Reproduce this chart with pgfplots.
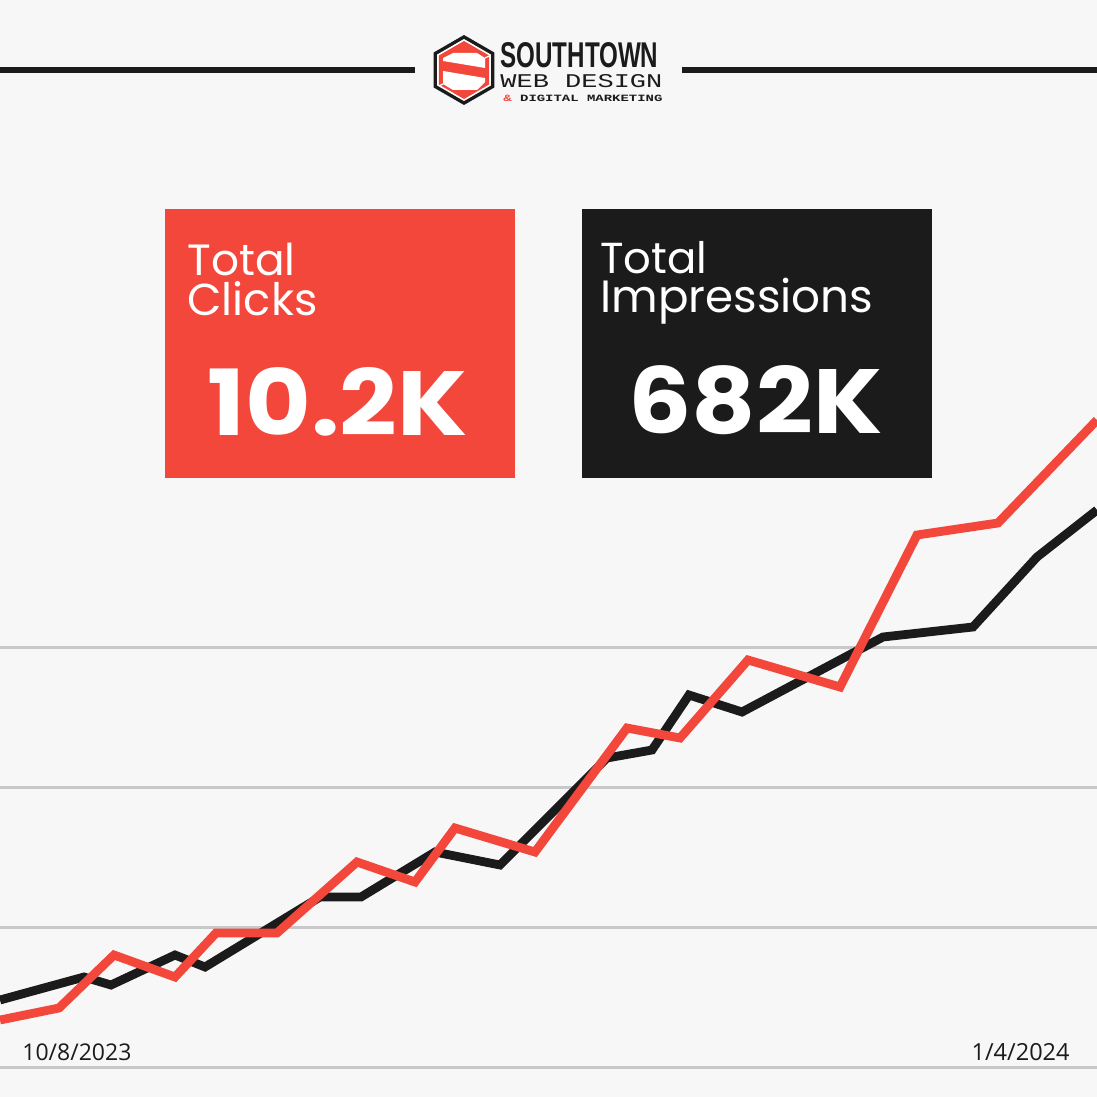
\documentclass[border=0pt]{standalone}
\usepackage{pgfplots}
\pgfplotsset{compat=1.18}
\usepackage{fontspec}
\setmainfont{Poppins}
\newfontfamily\logosans{Liberation Sans}
\newfontfamily\logomono{Liberation Mono}
\newfontfamily\datefont{Open Sans}
\definecolor{bgc}{HTML}{F7F7F7}
\definecolor{sred}{HTML}{F2473A}
\definecolor{sblack}{HTML}{1B1B1B}
\definecolor{gridc}{HTML}{C8C8C8}

\begin{document}
\begin{tikzpicture}
\begin{axis}[
    width=548.5pt, height=548.5pt, scale only axis,
    xmin=0, xmax=1097, ymin=0, ymax=1097, y dir=reverse,
    axis line style={draw=none},
    tick style={draw=none},
    xtick=\empty,
    ytick={647,787,927,1067}, yticklabels={},
    ymajorgrids=true,
    grid style={gridc, line width=1.5pt},
    axis background/.style={fill=bgc},
    clip mode=individual,
]

% impressions
\addplot[sblack, line width=4.4pt, line join=miter] coordinates {
    (0,1000)(84,977)(111,985)(175,955)(205,967)(320,897)(361,897)
    (435,852)(500,865)(607,758)(652,750)(689,695)(742,712)(883,637)
    (973,627)(1037,557)(1097,510)
};

% clicks
\addplot[sred, line width=4.4pt, line join=miter] coordinates {
    (0,1020)(59,1008)(114,955)(175,977)(216,933)(277,933)(357,862)
    (415,882)(455,828)(535,852)(627,728)(680,738)(748,660)(840,687)
    (917,535)(998,523)(1097,420)
};

% header rules
\draw[sblack, line width=3pt] (0,70) -- (415,70);
\draw[sblack, line width=3pt] (682,70) -- (1097,70);

% logo
\fill[sblack] (464,35) -- (494.3,52.5) -- (494.3,87.5) -- (464,105) -- (433.7,87.5) -- (433.7,52.5) -- cycle;
\fill[white] (464,39) -- (490.8,54.5) -- (490.8,85.5) -- (464,101) -- (437.2,85.5) -- (437.2,54.5) -- cycle;
\fill[sred] (464,41) -- (489.1,55.5) -- (489.1,84.5) -- (464,99) -- (438.9,84.5) -- (438.9,55.5) -- cycle;
\fill[white] (443,61) -- (443,58) -- (453,53) -- (477,53) -- (485,58) -- (485,68) -- cycle;
\fill[white] (443,71) -- (485,78) -- (485,82) -- (477,90) -- (453,90) -- (443,84) -- cycle;
\draw[white, line width=0.6pt] (485,58) -- (489.1,56);
\draw[white, line width=0.6pt] (443,84) -- (438.9,86);
\node[anchor=base west, inner sep=0, sblack] at (500,68)
    {\resizebox{79pt}{12.5pt}{\logosans\bfseries SOUTHTOWN}};
\node[anchor=base west, inner sep=0, sblack] at (500,87)
    {\smash{\resizebox{81pt}{6.5pt}{\logomono WEB DESIGN}}};
\node[anchor=base west, inner sep=0, sblack] at (503,102)
    {\smash{\resizebox{79.5pt}{3.2pt}{\logomono\bfseries\textcolor{sred}{\&} DIGITAL MARKETING}}};

% stat boxes
\fill[sred] (165,209) rectangle (515,478);
\fill[sblack] (582,209) rectangle (932,478);

\node[anchor=base west, inner sep=0, white] at (187,275) {\smash{\resizebox{54pt}{!}{Total}}};
\node[anchor=base west, inner sep=0, white] at (187,315) {\smash{\resizebox{65pt}{!}{Clicks}}};
\node[anchor=base west, inner sep=0, white] at (207,435) {\resizebox{130pt}{34pt}{\bfseries 10.2K}};

\node[anchor=base west, inner sep=0, white] at (600,273) {\smash{\resizebox{53.5pt}{!}{Total}}};
\node[anchor=base west, inner sep=0, white] at (600,312) {\smash{\resizebox{136.5pt}{!}{Impressions}}};
\node[anchor=base west, inner sep=0, white] at (628,433) {\resizebox{127pt}{34pt}{\bfseries 682K}};

% date labels
\node[anchor=base west, inner sep=0, sblack] at (22,1060) {\resizebox{54.5pt}{!}{\datefont 10/8/2023}};
\node[anchor=base east, inner sep=0, sblack] at (1070,1060) {\resizebox{49pt}{!}{\datefont 1/4/2024}};

\end{axis}
\pgfresetboundingbox
\path[use as bounding box] (current axis.south west) rectangle (current axis.north east);
\end{tikzpicture}
\end{document}
